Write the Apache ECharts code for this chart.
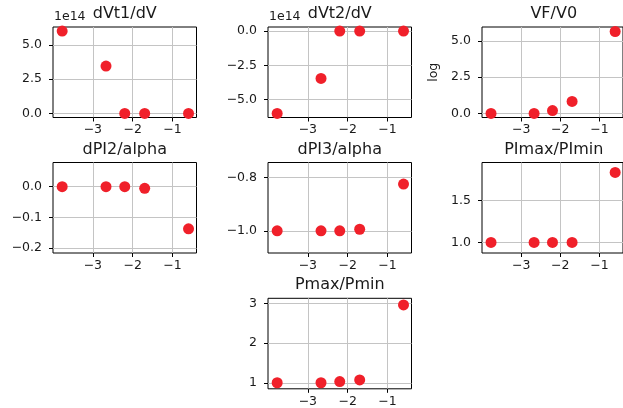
<!DOCTYPE html>
<html>
<head>
<meta charset="utf-8">
<script src="https://cdn.jsdelivr.net/npm/echarts@6/dist/echarts.min.js"></script>
<style>
html,body{margin:0;padding:0;background:#fff;}
#c{width:623px;height:408px;}
</style>
</head>
<body>
<div id="c"></div>
<script>
// ---- data ----
const xVals = [-3.77, -2.67, -2.2, -1.7, -0.6];
const dVt1 = [6.0, 3.45, 0.0, 0.0, 0.0];        // x 1e14
const dVt2 = [-6.0, -3.45, 0.0, 0.0, 0.0];      // x 1e14
const vfV0 = [0.0, 0.0, 0.2, 0.83, 5.66];
const dPI2 = [0.0, 0.0, 0.0, -0.005, -0.137];
const dPI3 = [-1.0, -1.0, -1.0, -0.994, -0.825];
const PImaxPImin = [1.0, 1.0, 1.0, 1.0, 1.838];
const PmaxPmin = [1.0, 1.0, 1.03, 1.07, 2.96];

const titles = ['dVt1/dV', 'dVt2/dV', 'VF/V0', 'dPI2/alpha', 'dPI3/alpha', 'PImax/PImin', 'Pmax/Pmin'];
const xTicks = [-3, -2, -1];
const yTicks1 = [0, 2.5, 5];
const yTicks2 = [-5, -2.5, 0];
const yTicks3 = [0, 2.5, 5];
const yTicks4 = [-0.2, -0.1, 0];
const yTicks5 = [-1.0, -0.8];
const yTicks6 = [1.0, 1.5];
const yTicks7 = [1, 2, 3];
const yDecimals = [1, 1, 1, 1, 1, 1, 0];
const offsetText = ['1e14', '1e14', '', '', '', '', ''];
const yNames = ['', '', 'log', '', '', '', ''];

// ---- layout / style ----
const cols = [53, 268, 482];
const rows = [27, 162.5, 298.3];
const W = 143.5, H = 90.5;
const cells = [[0,0],[0,1],[0,2],[1,0],[1,1],[1,2],[2,1]];
const yRanges = [[-0.3, 6.3], [-6.3, 0.3], [-0.28, 5.97], [-0.216, 0.079], [-1.083, -0.744], [0.874, 1.957], [0.848, 3.127]];
const xRange = [-4.0, -0.4];
const seriesData = [dVt1, dVt2, vfV0, dPI2, dPI3, PImaxPImin, PmaxPmin];
const yTicks = [yTicks1, yTicks2, yTicks3, yTicks4, yTicks5, yTicks6, yTicks7];

const FONT = 'DejaVu Sans';
const TXT = '#1a1a1a';
const GRIDC = '#c4c4c4';
const fmt = (v, d) => {
  const s = Number(v).toFixed(d);
  return s.replace('-', '\u2212');
};

const grid = [], xAxis = [], yAxis = [], series = [], title = [];
cells.forEach(([r, c], i) => {
  const left = cols[c], top = rows[r];
  grid.push({left: left, top: top, width: W, height: H, show: true, borderColor: '#000', borderWidth: 1, backgroundColor: 'transparent', containLabel: false});
  xAxis.push({
    type: 'value', gridIndex: i, min: xRange[0], max: xRange[1], interval: 1,
    axisLine: {show: false, onZero: false},
    axisTick: {show: true, length: 4, lineStyle: {color: '#000'}, customValues: xTicks},
    axisLabel: {show: true, customValues: xTicks, margin: 6, fontFamily: FONT, fontSize: 12.5, color: TXT, formatter: v => fmt(v, 0)},
    splitLine: {show: true, lineStyle: {color: GRIDC, width: 1}}
  });
  yAxis.push({
    type: 'value', gridIndex: i, min: yRanges[i][0], max: yRanges[i][1],
    name: yNames[i], nameLocation: 'middle', nameGap: 42,
    nameTextStyle: {fontFamily: FONT, fontSize: 12.5, color: TXT},
    axisLine: {show: false, onZero: false},
    axisTick: {show: true, length: 4, lineStyle: {color: '#000'}, customValues: yTicks[i]},
    axisLabel: {show: true, customValues: yTicks[i], margin: 11, fontFamily: FONT, fontSize: 12.5, color: TXT, formatter: v => fmt(v, yDecimals[i])},
    splitLine: {show: true, lineStyle: {color: GRIDC, width: 1}}
  });
  series.push({
    type: 'scatter', xAxisIndex: i, yAxisIndex: i,
    data: xVals.map((x, k) => [x, seriesData[i][k]]),
    symbolSize: 11, itemStyle: {color: '#f0202a', opacity: 1},
    clip: false, silent: true, animation: false
  });
  title.push({
    text: titles[i], left: left + W / 2, top: top - 21, textAlign: 'center',
    textStyle: {fontFamily: FONT, fontSize: 16, fontWeight: 'normal', color: TXT}, padding: 0
  });
  if (offsetText[i]) {
    title.push({
      text: offsetText[i], left: left + 1, top: top - 17,
      textStyle: {fontFamily: FONT, fontSize: 12.5, fontWeight: 'normal', color: TXT}, padding: 0
    });
  }
});

const chart = echarts.init(document.getElementById('c'), null, {renderer: 'canvas'});
chart.setOption({backgroundColor: '#fff', animation: false, title, grid, xAxis, yAxis, series});
</script>
</body>
</html>
